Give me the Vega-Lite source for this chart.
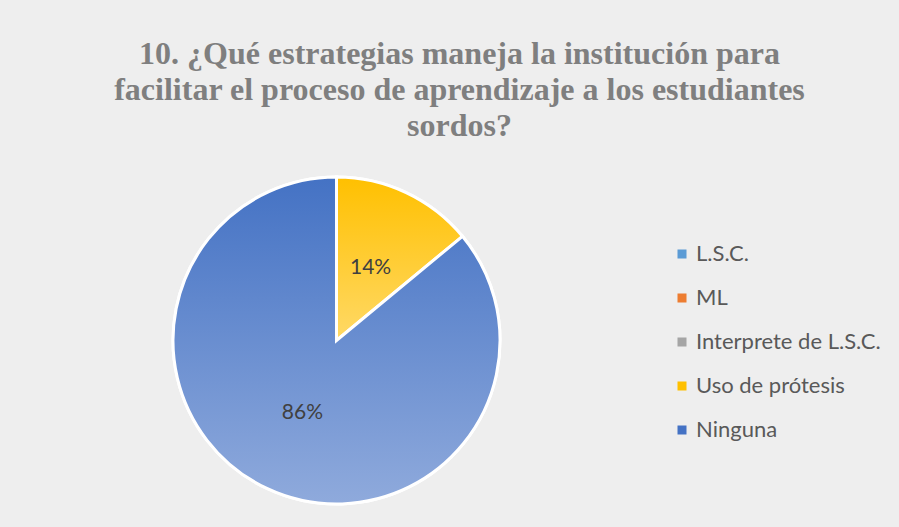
{
  "$schema": "https://vega.github.io/schema/vega-lite/v6.json",
  "width": 637,
  "height": 327,
  "padding": {"left": 18, "top": 38, "right": 44, "bottom": 26},
  "background": "#eeeeee",
  "config": {"view": {"stroke": null}},
  "title": {
    "text": ["10. ¿Qué estrategias maneja la institución para", "facilitar  el proceso de aprendizaje a los estudiantes", "sordos?"],
    "font": "Liberation Serif",
    "fontSize": 32,
    "fontWeight": "bold",
    "lineHeight": 36,
    "color": "#7f7f7f",
    "anchor": "middle",
    "dx": 123,
    "offset": 28
  },
  "data": {
    "values": [
      {"category": "L.S.C.", "value": 0},
      {"category": "ML", "value": 0},
      {"category": "Interprete de L.S.C.", "value": 0},
      {"category": "Uso de prótesis", "value": 0.14},
      {"category": "Ninguna", "value": 0.86}
    ]
  },
  "layer": [
    {
      "transform": [{"stack": "value", "groupby": [], "sort": [{"field": "category", "order": "descending"}], "as": ["v0", "v1"]}],
      "mark": {"type": "arc", "stroke": "white", "strokeWidth": 3},
      "encoding": {
        "theta": {"field": "v0", "type": "quantitative", "scale": {"domain": [0, 1]}},
        "theta2": {"field": "v1"},
        "color": {
          "field": "category",
          "type": "nominal",
          "scale": {
            "domain": ["L.S.C.", "ML", "Interprete de L.S.C.", "Uso de prótesis", "Ninguna"],
            "range": ["#5b9bd5", "#ed7d31", "#a5a5a5", "#ffc000", "#4472c4"]
          },
          "legend": {
            "title": null,
            "orient": "none",
            "legendX": 653,
            "legendY": 66,
            "symbolType": "square",
            "symbolSize": 81,
            "symbolStrokeWidth": 0,
            "labelFont": "Lato",
            "labelFontSize": 22,
            "labelColor": "#595959",
            "labelOffset": 3,
            "rowPadding": 22,
            "labelLimit": 300
          }
        }
      }
    },
    {
      "transform": [
        {"stack": "value", "groupby": [], "sort": [{"field": "category", "order": "descending"}], "as": ["v0", "v1"]},
        {"filter": "datum.category === 'Uso de prótesis'"}
      ],
      "mark": {
        "type": "arc",
        "stroke": "white",
        "strokeWidth": 3,
        "fill": {"gradient": "linear", "x1": 0, "y1": 0, "x2": 0, "y2": 1, "stops": [{"offset": 0, "color": "#ffc000"}, {"offset": 1, "color": "#ffd966"}]}
      },
      "encoding": {
        "theta": {"field": "v0", "type": "quantitative"},
        "theta2": {"field": "v1"}
      }
    },
    {
      "transform": [
        {"stack": "value", "groupby": [], "sort": [{"field": "category", "order": "descending"}], "as": ["v0", "v1"]},
        {"filter": "datum.category === 'Ninguna'"}
      ],
      "mark": {
        "type": "arc",
        "stroke": "white",
        "strokeWidth": 3,
        "fill": {"gradient": "linear", "x1": 0, "y1": 0, "x2": 0, "y2": 1, "stops": [{"offset": 0, "color": "#4472c4"}, {"offset": 1, "color": "#8faadc"}]}
      },
      "encoding": {
        "theta": {"field": "v0", "type": "quantitative"},
        "theta2": {"field": "v1"}
      }
    },
    {
      "transform": [{"filter": "datum.value > 0"}],
      "mark": {"type": "text", "radius": 80, "font": "Lato", "fontSize": 21, "color": "#404040"},
      "encoding": {
        "theta": {"field": "value", "type": "quantitative", "stack": true},
        "detail": {"field": "category", "type": "nominal"},
        "order": {"field": "category", "type": "ordinal", "sort": "descending"},
        "text": {"field": "value", "type": "quantitative", "format": ".0%"}
      }
    }
  ]
}
